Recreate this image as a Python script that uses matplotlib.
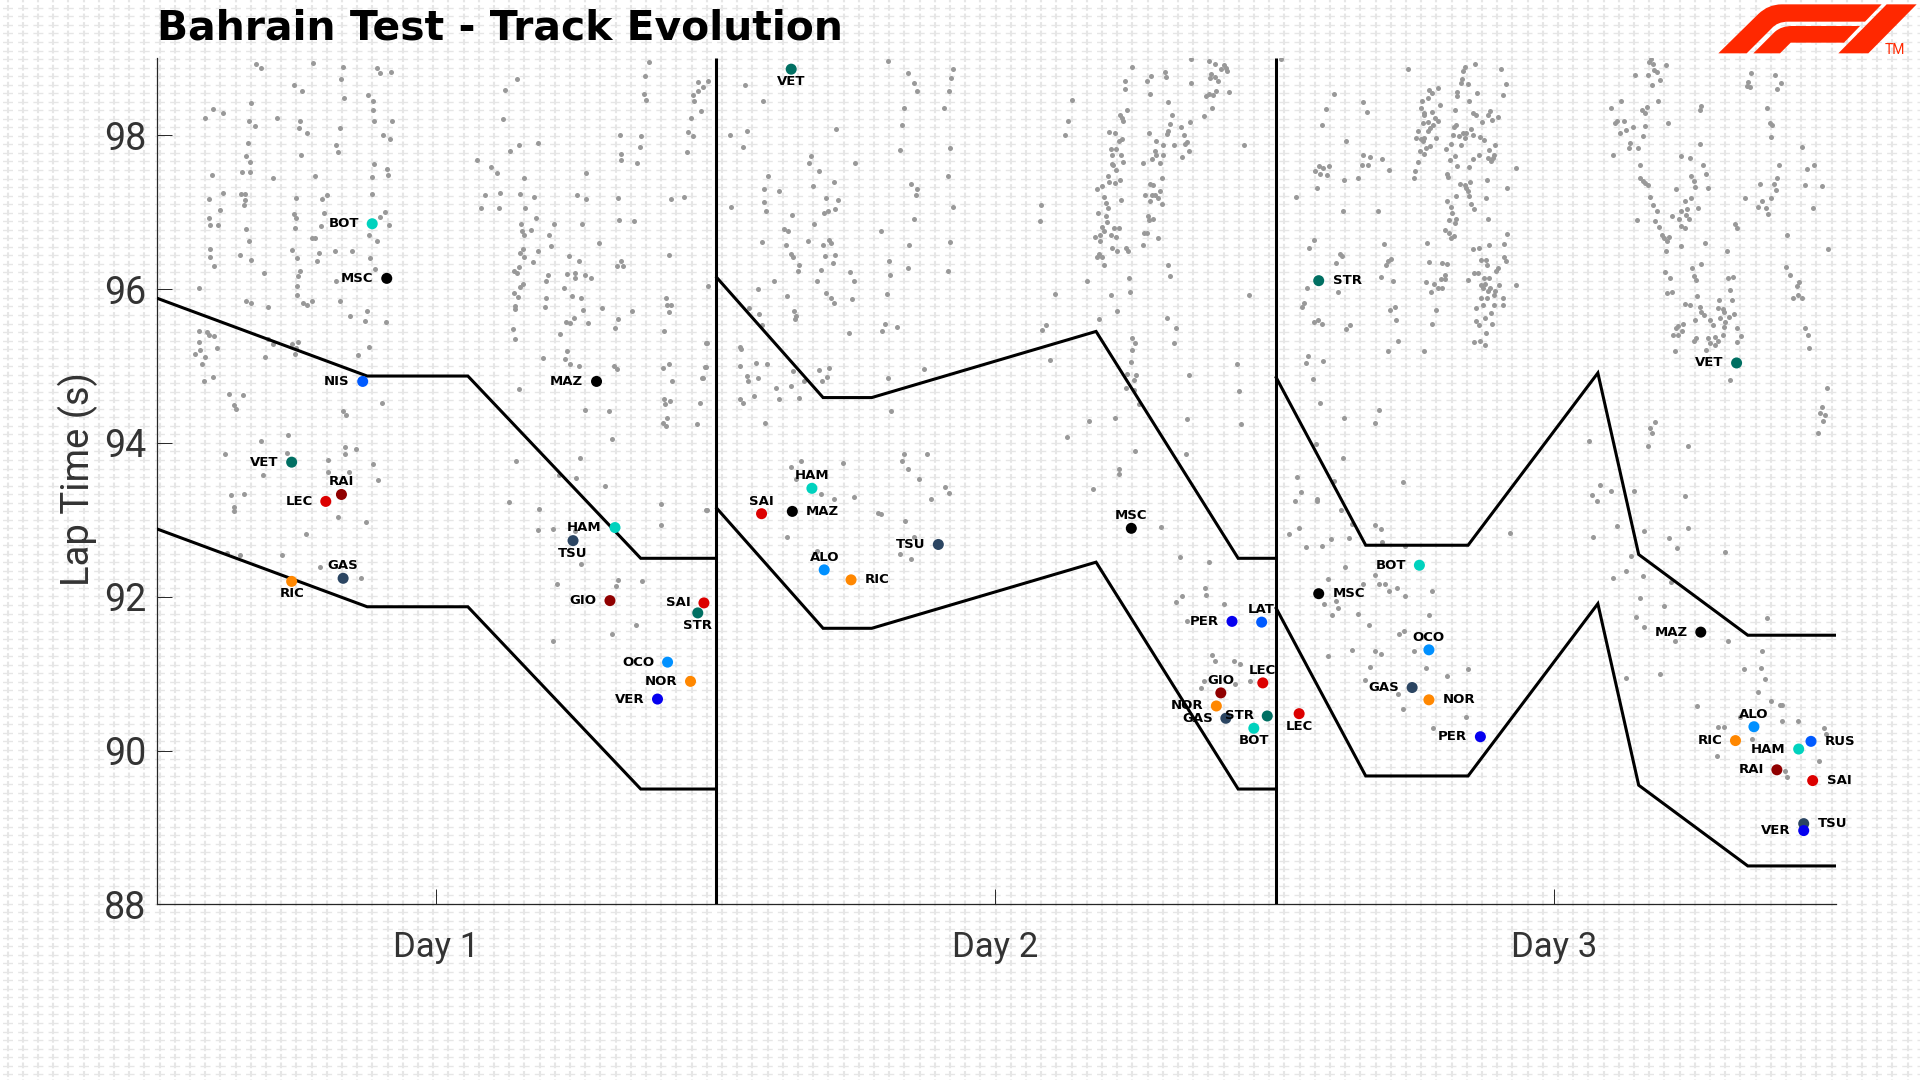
import matplotlib
matplotlib.use('Agg')
import matplotlib.pyplot as plt
from matplotlib.path import Path
from matplotlib.patches import PathPatch
import numpy as np

plt.rcParams['lines.scale_dashes'] = False

# every recorded lap, x = position in the test (1.0 = one day), y = lap time (s)
day1_laps = [
    (.177,98.93),(.186,98.87),(.279,98.94),(.332,98.89),(.392,98.87),(.418,98.82),(.398,98.81),(.328,98.73),
    (.245,98.65),(.258,98.58),(.168,98.42),(.376,98.53),(.385,98.44),(.333,98.49),(.100,98.34),(.118,98.29),
    (.385,98.33),(.085,98.22),(.164,98.19),(.213,98.23),(.255,98.19),(.388,98.19),(.419,98.18),(.175,98.12),
    (.254,98.10),(.267,98.03),(.326,98.09),(.404,98.00),(.415,97.95),(.162,97.90),(.319,97.88),(.323,97.78),
    (.159,97.73),(.256,97.75),(.166,97.65),(.151,97.52),(.166,97.52),(.097,97.48),(.387,97.63),(.410,97.56),
    (.413,97.49),(.383,97.46),(.282,97.47),(.206,97.44),(.118,97.25),(.149,97.24),(.157,97.24),(.303,97.23),
    (.383,97.24),(.092,97.17),(.248,97.18),(.295,97.17),(.156,97.16),(.154,97.10),(.112,97.03),(.244,96.98),
    (.248,96.93),(.297,96.99),(.406,97.00),(.398,96.94),(.092,96.92),(.246,96.80),(.293,96.82),(.094,96.83),
    (.108,96.83),(.158,96.78),(.414,96.84),(.379,96.70),(.277,96.66),(.282,96.66),(.392,96.62),(.163,96.62),
    (.241,96.51),(.094,96.52),(.094,96.42),(.147,96.44),(.288,96.47),(.317,96.50),(.348,96.50),(.250,96.41),
    (.286,96.37),(.167,96.38),(.380,96.40),(.102,96.30),(.389,96.26),(.191,96.21),(.255,96.23),(.252,96.17),
    (.319,96.11),(.250,96.04),(.075,96.02),(.249,95.92),(.159,95.85),(.167,95.82),(.277,95.85),(.261,95.82),
    (.267,95.80),(.327,95.84),(.198,95.77),(.374,95.71),(.345,95.65),(.371,95.59),(.409,95.57),
    (.075,95.45),(.088,95.44),(.093,95.41),(.101,95.39),(.074,95.31),(.198,95.35),(.206,95.29),(.241,95.29),
    (.252,95.31),(.248,95.24),(.106,95.23),(.077,95.21),(.067,95.16),(.085,95.12),(.379,95.25),(.246,95.16),
    (.193,95.12),(.358,95.14),(.080,95.02),(.099,94.86),(.083,94.81),(.401,94.52),(.128,94.63),(.153,94.62),
    (.137,94.49),(.141,94.44),(.331,94.42),(.338,94.36),(.234,94.10),(.186,94.02),(.335,93.95),(.355,93.92),
    (.335,93.85),(.231,93.87),(.121,93.85),(.305,93.78),(.385,93.73),(.188,93.58),(.305,93.62),(.343,93.62),
    (.394,93.52),(.131,93.32),(.154,93.34),(.266,92.81),(.323,93.04),(.373,92.97),(.137,93.12),(.137,93.17),
    (.125,92.57),(.147,92.54),(.223,92.54),(.290,92.39),(.364,92.25),
    (.878,98.95),(.872,98.77),(.643,98.73),(.621,98.59),(.869,98.54),(.874,98.46),(.966,98.69),(.976,98.63),
    (.966,98.57),(.958,98.53),(.985,98.71),(.960,98.45),(.972,98.31),(.954,98.22),(.617,98.21),(.949,98.04),
    (.958,97.99),(.827,98.00),(.865,97.99),(.862,97.85),(.647,97.87),(.681,97.90),(.631,97.80),(.946,97.78),
    (.828,97.76),(.828,97.68),(.858,97.64),(.572,97.68),(.596,97.59),(.607,97.51),(.766,97.51),(.655,97.44),
    (.942,97.20),(.918,97.17),(.823,97.19),(.766,97.17),(.750,97.23),(.585,97.23),(.613,97.25),(.649,97.24),
    (.674,97.20),(.579,97.06),(.610,97.06),(.657,97.05),(.826,96.90),(.852,96.88),(.677,96.92),(.650,96.85),
    (.709,96.85),(.759,96.85),(.652,96.75),(.667,96.77),(.655,96.70),(.700,96.70),(.703,96.56),(.790,96.60),
    (.654,96.52),(.649,96.47),(.681,96.50),(.656,96.42),(.672,96.35),(.736,96.43),(.754,96.36),(.915,96.44),
    (.829,96.36),(.822,96.30),(.833,96.30),(.638,96.24),(.643,96.21),(.646,96.29),(.699,96.19),(.732,96.20),
    (.746,96.21),(.764,96.18),(.747,96.14),(.775,96.14),(.695,96.11),(.654,96.07),(.649,96.03),(.727,96.02),
    (.637,95.95),(.645,95.90),(.741,95.91),(.695,95.89),(.757,95.88),(.909,95.89),(.911,95.80),(.918,95.79),
    (.640,95.78),(.640,95.74),(.692,95.77),(.760,95.73),(.795,95.76),(.915,95.70),(.848,95.71),(.745,95.62),
    (.731,95.57),(.738,95.56),(.769,95.56),(.823,95.61),(.818,95.50),(.635,95.48),(.906,95.45),(.720,95.42),
    (.981,95.30),(.640,95.35),(.732,95.19),(.690,95.11),(.729,95.09),(.737,95.03),(.754,95.00),(.903,94.98),
    (.915,95.03),(.817,95.00),(.821,94.96),(.979,94.99),(.647,94.70),(.920,94.80),(.974,94.84),(.906,94.57),
    (.917,94.55),(.908,94.51),(.970,94.52),(.764,94.43),(.807,94.42),(.911,94.32),(.903,94.26),(.910,94.22),
    (.965,94.25),(.813,94.05),(.755,93.81),(.641,93.77),(.718,93.58),(.748,93.55),(.800,93.44),
    (.629,93.23),(.682,93.14),(.900,93.21),(.981,93.13),(.681,92.87),(.708,92.88),(.747,92.86),(.900,92.93),
    (.757,92.42),(.714,92.16),(.823,92.22),(.819,92.14),(.867,92.20),(.856,91.63),(.813,91.52),(.708,91.42),
    (.950,90.94),(.985,96.04),(.982,95.30),(.980,94.99),(.975,94.85),
]

day2_laps = [
    (1.051,98.65),(1.082,98.44),(1.023,98.00),(1.054,98.05),(1.047,97.85),(1.213,98.08),(1.306,98.97),(1.342,98.81),
    (1.422,98.86),(1.418,98.74),(1.353,98.68),(1.357,98.57),(1.415,98.57),(1.334,98.36),(1.406,98.36),(1.331,98.13),
    (1.328,97.81),(1.416,97.83),(1.168,97.73),(1.165,97.64),(1.247,97.64),(1.183,97.53),(1.091,97.47),(1.413,97.47),
    (1.210,97.39),(1.172,97.34),(1.085,97.30),(1.112,97.28),(1.348,97.37),(1.358,97.30),(1.356,97.22),(1.195,97.19),
    (1.216,97.16),(1.085,97.13),(1.026,97.07),(1.422,97.07),(1.088,97.02),(1.211,97.04),(1.199,97.02),(1.192,96.99),
    (1.134,96.96),(1.353,96.91),(1.174,96.85),(1.120,96.78),(1.128,96.75),(1.294,96.76),(1.163,96.63),(1.081,96.61),
    (1.123,96.58),(1.201,96.64),(1.204,96.60),(1.189,96.58),(1.344,96.57),(1.416,96.61),(1.132,96.46),(1.137,96.42),
    (1.193,96.43),(1.212,96.45),(1.207,96.34),(1.307,96.36),(1.147,96.31),(1.186,96.25),(1.145,96.24),(1.341,96.28),
    (1.413,96.24),(1.239,96.22),(1.310,96.19),(1.102,96.11),(1.180,96.11),(1.245,96.10),(1.073,96.00),(1.126,95.91),
    (1.196,95.95),(1.204,95.89),(1.209,95.82),(1.304,95.94),(1.242,95.87),(1.058,95.76),(1.076,95.68),(1.138,95.71),
    (1.142,95.65),(1.140,95.61),(1.081,95.54),(1.301,95.55),(1.296,95.45),(1.322,95.51),(1.236,95.43),(1.041,95.25),
    (1.044,95.22),(1.070,95.04),(1.090,95.02),(1.042,95.00),(1.054,94.87),(1.056,94.80),(1.074,94.84),(1.136,94.93),
    (1.182,94.95),(1.201,94.97),(1.197,94.86),(1.188,94.81),(1.155,94.80),(1.105,94.71),(1.133,94.74),(1.067,94.61),
    (1.112,94.57),(1.147,94.59),(1.041,94.57),(1.047,94.52),(1.370,94.96),(1.306,94.85),(1.312,94.42),(1.087,94.26),
    (1.334,93.85),(1.375,93.85),(1.331,93.76),(1.342,93.66),(1.225,93.74),(1.151,93.77),(1.133,93.69),(1.142,93.53),
    (1.361,93.53),(1.408,93.43),(1.415,93.35),(1.186,93.33),(1.245,93.30),(1.210,93.27),(1.383,93.27),
    (1.289,93.09),(1.294,93.07),(.983,93.13),(1.336,92.98),(1.126,92.78),(1.353,92.78),(1.180,92.60),(1.328,92.55),
    (1.348,92.49),
    (1.580,97.09),(1.577,96.88),(1.623,98.00),(1.627,98.18),(1.635,98.46),(1.743,98.89),(1.848,98.99),(1.880,98.96),
    (1.891,98.93),(1.907,98.92),(1.910,98.87),(1.912,98.84),(1.902,98.86),(1.802,98.82),(1.803,98.76),(1.777,98.77),
    (1.769,98.70),(1.729,98.71),(1.730,98.60),(1.883,98.80),(1.882,98.74),(1.891,98.76),(1.896,98.70),(1.848,98.68),
    (1.775,98.54),(1.875,98.51),(1.879,98.54),(1.887,98.52),(1.893,98.58),(1.916,98.56),(1.807,98.43),(1.885,98.35),
    (1.733,98.33),(1.721,98.27),(1.725,98.22),(1.726,98.18),(1.871,98.25),(1.813,98.26),(1.810,98.15),(1.829,98.11),
    (1.846,98.17),(1.807,98.06),(1.804,98.02),(1.772,98.03),(1.702,98.04),(1.712,98.03),(1.835,98.00),(1.840,97.91),
    (1.837,97.89),(1.942,97.87),(1.724,97.95),(1.719,97.93),(1.785,97.92),(1.798,97.88),(1.817,97.87),(1.705,97.82),
    (1.714,97.82),(1.783,97.79),(1.785,97.75),(1.844,97.79),(1.706,97.75),(1.722,97.75),(1.798,97.75),(1.778,97.69),
    (1.832,97.72),(1.707,97.63),(1.726,97.65),(1.761,97.64),(1.792,97.64),(1.709,97.61),(1.714,97.55),(1.699,97.47),
    (1.795,97.45),(1.702,97.39),(1.712,97.38),(1.721,97.42),(1.689,97.34),(1.679,97.30),(1.775,97.37),(1.779,97.35),
    (1.793,97.27),(1.766,97.23),(1.778,97.23),(1.784,97.23),(1.693,97.20),(1.789,97.19),(1.775,97.14),(1.722,97.16),
    (1.696,97.12),(1.699,97.06),(1.796,97.11),(1.682,96.99),(1.695,96.95),(1.771,96.95),(1.772,96.90),(1.780,96.91),
    (1.698,96.87),(1.689,96.81),(1.710,96.79),(1.719,96.79),(1.692,96.76),(1.763,96.73),(1.769,96.73),(1.685,96.71),
    (1.704,96.71),(1.713,96.68),(1.676,96.68),(1.789,96.66),(1.685,96.62),(1.762,96.58),(1.707,96.54),(1.715,96.50),
    (1.731,96.53),(1.735,96.49),(1.683,96.46),(1.680,96.42),(1.688,96.42),(1.692,96.31),(1.807,96.32),(1.811,96.17),
    (1.737,96.15),(1.661,96.11),(1.739,95.96),(1.605,95.94),(1.704,95.92),(1.951,95.92),(1.715,95.71),(1.683,95.61),
    (1.805,95.63),(1.588,95.54),(1.582,95.47),(1.820,95.49),(1.742,95.37),(1.747,95.30),(1.817,95.30),(1.743,95.21),
    (1.596,95.08),(1.740,95.05),(1.930,95.03),(1.734,94.90),(1.749,94.88),(1.745,94.82),(1.844,94.88),(1.731,94.72),
    (1.934,94.67),(1.746,94.69),(1.755,94.51),(1.665,94.29),(1.712,94.33),(1.841,94.31),(1.937,94.25),(1.626,94.08),
    (1.748,93.90),(1.838,93.85),(1.719,93.66),(1.719,93.59),(1.672,93.40),
    (1.794,92.91),(1.828,92.52),(1.880,92.45),(1.873,92.12),(1.874,92.02),(1.832,92.01),(1.821,91.93),(1.906,91.91),
    (1.840,91.69),(1.885,91.24),(1.891,91.16),(1.925,91.17),(1.935,91.13),(1.954,90.90),(1.927,90.86),(1.871,90.90),
    (1.866,90.82),
]

day3_laps = [
    (2.009,98.99),(2.235,98.86),(2.104,98.54),(2.156,98.43),(2.162,98.30),(2.089,98.34),(2.082,98.14),(2.125,97.93),
    (2.156,97.75),(2.167,97.72),(2.189,97.69),(2.153,97.62),(2.164,97.62),(2.201,97.55),(2.076,97.60),(2.095,97.60),
    (2.084,97.57),(2.070,97.54),(2.079,97.50),(2.091,97.48),(2.122,97.42),(2.147,97.44),(2.073,97.32),(2.036,97.20),
    (2.119,97.02),(2.182,97.02),(2.067,96.64),(2.059,96.54),(2.114,96.46),(2.117,96.43),(2.192,96.59),(2.107,96.34),
    (2.205,96.39),(2.199,96.37),(2.196,96.32),(2.188,96.16),(2.209,96.10),(2.055,96.02),(2.110,95.96),(2.049,95.82),
    (2.047,95.77),(2.068,95.57),(2.074,95.60),(2.082,95.55),(2.212,95.77),(2.203,95.73),(2.215,95.60),(2.132,95.53),
    (2.125,95.48),(2.218,95.33),(2.200,95.20),(2.056,95.13),(2.053,95.04),(2.084,95.06),(2.065,94.83),(2.079,94.52),
    (2.184,94.43),(2.122,94.33),(2.176,94.26),(2.071,93.99),(2.119,93.80),(2.037,93.56),(2.104,93.51),(2.227,93.49),
    (2.044,93.36),(2.073,93.27),
    (2.356,98.93),(2.338,98.89),(2.334,98.84),(2.402,98.86),(2.333,98.73),(2.330,98.68),(2.342,98.67),(2.411,98.67),
    (2.289,98.62),(2.273,98.59),(2.278,98.55),(2.324,98.56),(2.359,98.55),(2.323,98.51),(2.405,98.52),(2.272,98.49),
    (2.261,98.44),(2.345,98.44),(2.293,98.40),(2.259,98.35),(2.319,98.33),(2.382,98.32),(2.264,98.29),(2.278,98.30),
    (2.352,98.29),(2.358,98.27),(2.379,98.26),(2.397,98.24),(2.265,98.26),(2.284,98.23),(2.289,98.19),(2.386,98.20),
    (2.271,98.17),(2.262,98.16),(2.368,98.17),(2.280,98.14),(2.275,98.10),(2.318,98.11),(2.322,98.13),(2.271,98.05),
    (2.253,98.06),(2.348,98.08),(2.316,98.01),(2.334,98.03),(2.340,98.03),(2.351,98.01),(2.327,97.99),(2.338,97.97),
    (2.285,97.97),(2.250,97.97),(2.258,97.95),(2.265,97.97),(2.365,97.98),(2.371,97.94),(2.262,97.92),(2.313,97.89),
    (2.330,97.87),(2.392,97.88),(2.275,97.86),(2.268,97.84),(2.303,97.82),(2.257,97.79),(2.381,97.81),(2.264,97.76),
    (2.362,97.75),(2.390,97.74),(2.319,97.73),(2.379,97.71),(2.351,97.69),(2.387,97.71),(2.310,97.68),(2.253,97.65),
    (2.384,97.66),(2.324,97.60),(2.345,97.59),(2.428,97.57),(2.249,97.53),(2.305,97.50),(2.308,97.46),(2.247,97.45),
    (2.376,97.42),(2.346,97.39),(2.328,97.37),(2.337,97.36),(2.340,97.32),(2.342,97.27),(2.413,97.31),(2.321,97.21),
    (2.345,97.21),(2.375,97.18),(2.306,97.14),(2.349,97.11),(2.313,97.07),(2.353,97.04),(2.314,96.99),(2.379,96.91),
    (2.309,96.90),(2.322,96.91),(2.319,96.86),(2.302,96.77),(2.309,96.73),(2.412,96.72),(2.318,96.69),(2.312,96.66),
    (2.270,96.60),(2.408,96.59),(2.381,96.57),(2.362,96.54),(2.351,96.52),(2.408,96.42),(2.366,96.38),(2.375,96.38),
    (2.411,96.36),(2.273,96.35),(2.296,96.34),(2.306,96.33),(2.376,96.31),(2.396,96.28),(2.393,96.24),(2.354,96.21),
    (2.360,96.21),(2.301,96.19),(2.371,96.14),(2.380,96.14),(2.295,96.13),(2.302,96.13),(2.342,96.12),(2.267,96.09),
    (2.282,96.07),(2.290,96.02),(2.297,96.02),(2.366,96.05),(2.374,96.07),(2.399,96.05),(2.428,96.05),(2.369,96.01),
    (2.382,96.02),(2.392,95.98),(2.276,95.96),(2.378,95.98),(2.390,95.92),(2.366,95.89),(2.376,95.88),(2.405,95.89),
    (2.358,95.76),(2.370,95.79),(2.390,95.79),(2.405,95.80),(2.285,95.73),(2.384,95.69),(2.373,95.63),(2.358,95.58),
    (2.362,95.54),(2.279,95.55),(2.385,95.55),(2.375,95.43),(2.354,95.31),(2.365,95.33),(2.373,95.28),(2.265,95.20),
    (2.670,98.99),(2.666,98.95),(2.674,98.93),(2.696,98.92),(2.676,98.85),(2.681,98.82),(2.665,98.79),(2.642,98.78),
    (2.686,98.72),(2.672,98.66),(2.849,98.81),(2.891,98.78),(2.902,98.68),(2.843,98.69),(2.842,98.64),(2.847,98.63),
    (2.896,98.60),(2.683,98.45),(2.617,98.45),(2.760,98.38),(2.757,98.33),(2.599,98.36),(2.662,98.37),(2.654,98.33),
    (2.659,98.29),(2.878,98.36),(2.609,98.19),(2.605,98.16),(2.622,98.19),(2.700,98.16),(2.882,98.16),(2.887,98.13),
    (2.638,98.11),(2.659,98.12),(2.625,98.07),(2.614,98.03),(2.656,97.99),(2.884,97.98),(2.632,97.90),(2.757,97.89),
    (2.631,97.83),(2.647,97.84),(2.940,97.85),(2.602,97.74),(2.723,97.73),(2.739,97.71),(2.763,97.62),(2.651,97.62),
    (2.898,97.62),(2.962,97.62),(2.949,97.56),(2.769,97.50),(2.742,97.47),(2.651,97.44),(2.656,97.41),(2.660,97.38),
    (2.664,97.35),(2.747,97.41),(2.895,97.45),(2.865,97.37),(2.889,97.37),(2.945,97.35),(2.976,97.34),(2.748,97.33),
    (2.772,97.32),(2.714,97.30),(2.893,97.29),(2.669,97.20),(2.741,97.19),(2.838,97.19),(2.731,97.15),(2.868,97.15),
    (2.885,97.18),(2.673,97.09),(2.862,97.07),(2.876,97.06),(2.959,97.06),(2.754,97.05),(2.680,97.01),(2.723,97.02),
    (2.735,97.04),(2.880,96.98),(2.708,96.95),(2.733,96.97),(2.677,96.88),(2.645,96.90),(2.720,96.91),(2.738,96.91),
    (2.821,96.85),(2.823,96.80),(2.723,96.82),(2.731,96.79),(2.685,96.81),(2.914,96.70),(2.690,96.71),(2.694,96.67),
    (2.702,96.68),(2.699,96.62),(2.766,96.60),(2.724,96.56),(2.987,96.52),(2.805,96.49),(2.697,96.49),(2.912,96.29),
    (2.744,96.28),(2.760,96.33),(2.695,96.22),(2.919,96.19),(2.747,96.17),(2.704,96.14),(2.751,96.12),(2.817,96.16),
    (2.808,96.14),(2.935,96.09),(2.931,96.04),(2.812,95.99),(2.698,95.95),(2.707,95.96),(2.753,95.91),(2.933,95.93),
    (2.924,95.89),(2.940,95.89),(2.815,95.86),(2.792,95.86),(2.731,95.81),(2.740,95.79),(2.757,95.77),(2.789,95.75),
    (2.798,95.74),(2.760,95.70),(2.764,95.67),(2.801,95.70),(2.818,95.68),(2.809,95.64),(2.794,95.63),(2.748,95.60),
    (2.776,95.60),(2.803,95.57),(2.780,95.53),(2.727,95.55),(2.719,95.52),(2.714,95.50),(2.800,95.51),(2.945,95.50),
    (2.725,95.46),(2.824,95.49),(2.709,95.41),(2.719,95.40),(2.799,95.41),(2.785,95.38),(2.830,95.39),(2.951,95.41),
    (2.750,95.36),(2.772,95.36),(2.747,95.32),(2.775,95.30),(2.790,95.32),(2.823,95.31),(2.784,95.27),(2.953,95.24),
    (2.769,95.21),(2.713,95.20),(2.812,94.82),(2.984,94.72),(2.975,94.47),(2.973,94.39),(2.981,94.36),(2.978,94.29),
    (2.969,94.13),(2.677,94.27),(2.668,94.20),(2.672,94.13),(2.665,93.96),(2.736,93.96),(2.559,94.03),(2.579,93.45),
    (2.599,93.38),(2.565,93.32),(2.640,93.38),(2.731,93.31),
    (2.033,93.24),(2.073,93.24),(2.115,93.13),(2.136,92.95),(2.176,92.93),(2.187,92.88),(2.022,92.81),(2.041,92.89),
    (2.098,92.75),(2.130,92.76),(2.082,92.66),(2.054,92.65),(2.190,92.71),(2.231,92.66),(2.418,92.83),(2.123,92.39),
    (2.177,92.28),(2.093,92.23),(2.155,92.16),(2.184,92.17),(2.195,92.16),(2.216,92.12),(2.202,92.07),(2.231,92.01),
    (2.279,92.08),(2.107,91.94),(2.086,91.90),(2.111,91.85),(2.100,91.76),(2.147,91.77),(2.273,91.76),(2.165,91.63),
    (2.228,91.55),(2.219,91.52),(2.136,91.31),(2.177,91.30),(2.188,91.25),(2.247,91.30),(2.093,91.23),(2.167,91.09),
    (2.267,91.08),(2.342,91.06),(2.305,90.97),(2.159,90.92),(2.218,90.74),(2.227,90.54),(2.340,90.44),(2.280,90.30),
    (2.573,93.25),(2.609,92.92),(2.736,92.90),(2.566,92.78),(2.658,92.85),(2.703,92.76),(2.717,92.64),(2.802,92.58),
    (2.634,92.53),(2.626,92.34),(2.655,92.27),(2.602,92.24),(2.706,92.19),(2.650,91.99),(2.693,91.88),(2.644,91.74),
    (2.657,91.61),(2.878,91.72),(2.807,91.43),(2.713,91.43),(2.868,91.30),(2.836,91.06),(2.867,91.07),(2.873,90.93),
    (2.625,90.95),(2.686,90.99),(2.862,90.76),(2.884,90.64),(2.900,90.59),(2.904,90.59),(2.753,90.58),(2.904,90.38),
    (2.932,90.39),(2.829,90.44),(2.790,90.31),(2.800,90.31),(2.980,90.30),(2.983,90.22),(2.851,90.15),(2.788,89.93),
    (2.970,89.87),(2.909,89.73),(2.913,89.66),
]

# track evolution envelope, one line per day
day_x = [[0, .375, .555, .864, .998], [1, 1.190, 1.277, 1.678, 1.932, 2],
         [2, 2.160, 2.343, 2.575, 2.648, 2.843, 3]]
upper_y = [[95.88, 94.87, 94.87, 92.5, 92.5], [96.15, 94.59, 94.59, 95.45, 92.5, 92.5],
           [94.85, 92.67, 92.67, 94.91, 92.55, 91.5, 91.5]]
lower_y = [[92.88, 91.87, 91.87, 89.5, 89.5], [93.15, 91.59, 91.59, 92.45, 89.5, 89.5],
           [91.85, 89.67, 89.67, 91.91, 89.55, 88.5, 88.5]]

# best lap of each driver on each day
driver_codes = ['BOT', 'MSC', 'NIS', 'MAZ', 'VET', 'RAI', 'LEC', 'HAM', 'TSU', 'RIC', 'GAS', 'GIO', 'SAI', 'STR',
                'OCO', 'NOR', 'VER',
                'VET', 'HAM', 'SAI', 'MAZ', 'ALO', 'RIC', 'TSU', 'MSC', 'PER', 'LAT', 'LEC', 'GIO', 'NOR', 'GAS',
                'STR', 'BOT',
                'LEC', 'STR', 'BOT', 'MSC', 'OCO', 'GAS', 'NOR', 'PER', 'VET', 'MAZ', 'ALO', 'RIC', 'RUS', 'HAM',
                'RAI', 'SAI', 'TSU', 'VER']
driver_x = [.384, .410, .367, .785, .240, .329, .301, .818, .743, .240, .332, .809, .977, .966,
            .912, .953, .894,
            1.133, 1.170, 1.080, 1.135, 1.192, 1.240, 1.396, 1.741, 1.921, 1.974, 1.976, 1.901, 1.893, 1.910,
            1.984, 1.960,
            2.041, 2.076, 2.256, 2.076, 2.273, 2.243, 2.273, 2.365, 2.823, 2.759, 2.854, 2.821, 2.956, 2.934,
            2.895, 2.959, 2.943, 2.943]
driver_y = [96.85, 96.14, 94.80, 94.80, 93.75, 93.33, 93.24, 92.90, 92.73, 92.20, 92.24, 91.95, 91.92, 91.79,
            91.15, 90.90, 90.67,
            98.86, 93.41, 93.08, 93.11, 92.35, 92.22, 92.68, 92.89, 91.68, 91.67, 90.88, 90.75, 90.58, 90.42,
            90.45, 90.29,
            90.48, 96.11, 92.41, 92.04, 91.31, 90.82, 90.66, 90.18, 95.04, 91.54, 90.31, 90.13, 90.12, 90.02,
            89.75, 89.61, 89.05, 88.96]

y_ticks = [88, 90, 92, 94, 96, 98]
day_ticks = [.498, 1.497, 2.497]
day_breaks = [.998, 2]
day_labels = ['Day 1', 'Day 2', 'Day 3']

team_colors = {'BOT': '#00D2BE', 'HAM': '#00D2BE', 'MSC': '#000000', 'MAZ': '#000000', 'NIS': '#005AFF',
               'LAT': '#005AFF', 'RUS': '#005AFF', 'VET': '#006F62', 'STR': '#006F62', 'RAI': '#900000',
               'GIO': '#900000', 'LEC': '#DC0000', 'SAI': '#DC0000', 'TSU': '#2B4562', 'GAS': '#2B4562',
               'RIC': '#FF8700', 'NOR': '#FF8700', 'VER': '#0600EF', 'PER': '#0600EF', 'ALO': '#0090FF',
               'OCO': '#0090FF'}

# where each name sits around its dot: Left, Right, Above, Below
label_sides = list('LLLLLALLBBALLBLLL' + 'BAARARLALAAALLLB' + 'BRLRALRLLLALRLLRRL')
side_offset = {'L': (-9.5, 0, 'right'), 'R': (10, 0, 'left'), 'A': (0, 9, 'center'), 'B': (0, -9, 'center')}

fig = plt.figure(figsize=(19.2, 10.8), dpi=100, facecolor='white')

# faint watermark behind everything
bg = fig.add_axes([0, 0, 1, 1], zorder=-1)
bg.set_xlim(0, 1920)
bg.set_ylim(1080, 0)
bg.axis('off')
bg.hlines(np.arange(7.9, 1080, 8.53), 0, 1920, color='#e6e6e6', lw=1.0,
          linestyles=[(9.14, (7.2, 3.74))], capstyle='butt')
bg.vlines(np.arange(7.5, 1920, 15.2), 0, 1080, color='#e6e6e6', lw=1.5,
          linestyles=[(2.54, (4.2, 1.94))], capstyle='butt')

ax = fig.add_axes([157.4 / 1920, 1 - 904.4 / 1080, 1678.2 / 1920, 846 / 1080])
ax.patch.set_alpha(0)
ax.set_xlim(0, 3)
ax.set_ylim(88, 99)

all_laps = day1_laps + day2_laps + day3_laps
lap_x = [p[0] for p in all_laps]
lap_y = [p[1] for p in all_laps]
ax.scatter(lap_x, lap_y, s=13, color='#999999', linewidths=0, zorder=2)

for x, up, low in zip(day_x, upper_y, lower_y):
    ax.plot(x, up, color='black', lw=2.2, zorder=3, solid_joinstyle='miter')
    ax.plot(x, low, color='black', lw=2.2, zorder=3, solid_joinstyle='miter')
ax.vlines(day_breaks, 88, 99, color='black', lw=2.2, zorder=3)

ax.scatter(driver_x, driver_y, s=63, c=[team_colors[d] for d in driver_codes], linewidths=0, zorder=4)
for code, x, y, side in zip(driver_codes, driver_x, driver_y, label_sides):
    dx, dy, ha = side_offset[side]
    ax.annotate(code, (x, y), xytext=(dx, dy), textcoords='offset points', ha=ha, va='center',
                fontsize=9.5, fontweight='bold', family='DejaVu Sans', color='black', zorder=5,
                annotation_clip=False)

for s in ['top', 'right']:
    ax.spines[s].set_visible(False)
for s in ['left', 'bottom']:
    ax.spines[s].set_color('#262626')
    ax.spines[s].set_linewidth(0.9)

ax.set_yticks(y_ticks)
ax.set_xticks(day_ticks)
ax.set_xticklabels(day_labels)
ax.tick_params(axis='y', direction='in', length=11, width=0.7, color='#262626', labelcolor='#333333',
               labelsize=27, pad=8)
ax.tick_params(axis='x', direction='in', length=11, width=0.7, color='#262626', labelcolor='#333333',
               labelsize=25, pad=19)
for t in ax.get_xticklabels() + ax.get_yticklabels():
    t.set_family('Roboto')
    t.set_fontweight('normal')

ax.set_ylabel('Lap Time (s)', fontsize=27.5, family='Roboto', fontweight='normal', color='#333333')
ax.yaxis.set_label_coords(-0.0354, 0.503)

fig.text(157 / 1920, 1 - 40 / 1080, 'Bahrain Test - Track Evolution', fontsize=29.4, family='DejaVu Sans',
         fontweight='bold', color='black', ha='left', va='baseline')

# F1 logo, drawn in the top right corner
logo = fig.add_axes([1690 / 1920, 1 - 80 / 1080, 230 / 1920, 80 / 1080])
logo.set_xlim(0, 690)
logo.set_ylim(240, 0)
logo.axis('off')
L, M, C = Path.LINETO, Path.MOVETO, Path.CURVE3
logo_red = '#FF2800'
f_top = Path([(85, 160), (170, 160), (245, 85), (262, 65), (295, 65), (525, 65), (575, 13), (275, 13), (235, 13),
              (205, 42), (85, 160)], [M, L, L, C, C, L, L, L, C, C, L])
f_mid = Path([(190, 160), (270, 160), (302, 128), (462, 128), (510, 78), (305, 78), (275, 78), (255, 95), (190, 160)],
             [M, L, L, L, L, L, C, C, L])
one = Path([(445, 160), (535, 160), (680, 13), (590, 13), (445, 160)], [M, L, L, L, L])
for shape in [f_top, f_mid, one]:
    logo.add_patch(PathPatch(shape, facecolor=logo_red, edgecolor='none'))
logo.text(614, 151, 'TM', color=logo_red, fontsize=10, family='Roboto', ha='center', va='center')

fig.savefig('out.png', dpi=100)
